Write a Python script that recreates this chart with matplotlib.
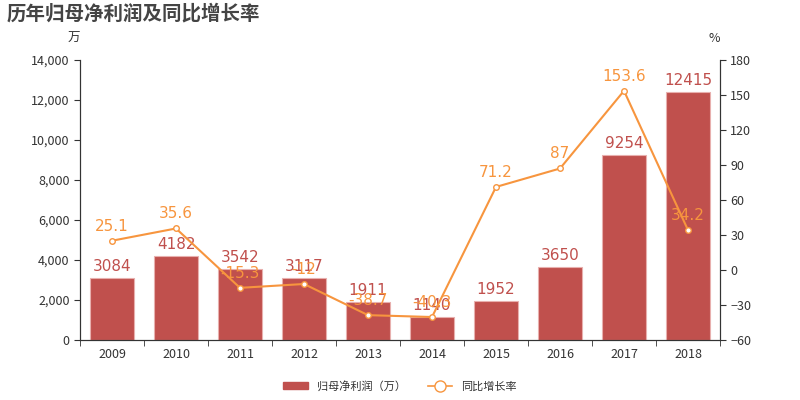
import matplotlib
matplotlib.use("Agg")
import matplotlib.pyplot as plt
from matplotlib.ticker import FuncFormatter, FixedLocator
import numpy as np

plt.rcParams['font.family'] = ['Noto Sans CJK SC', 'DejaVu Sans']

years = ['2009', '2010', '2011', '2012', '2013', '2014', '2015', '2016', '2017', '2018']
profit = [3084, 4182, 3542, 3117, 1911, 1140, 1952, 3650, 9254, 12415]
growth = [25.1, 35.6, -15.3, -12, -38.7, -40.3, 71.2, 87, 153.6, 34.2]

bar_color = '#c0504d'
line_color = '#f7953e'
text_color = '#333333'

fig = plt.figure(figsize=(8, 4), dpi=100)
ax = fig.add_axes([0.1, 0.15, 0.8, 0.70])
ax2 = ax.twinx()

x = np.arange(len(years))
ax.bar(x, profit, width=0.7, color=bar_color, edgecolor='#e8b0ae', linewidth=0.8, zorder=2)
for xi, v in zip(x, profit):
    ax.text(xi, v + 200, str(v), ha='center', va='bottom', color=bar_color, fontsize=11, family='DejaVu Sans')

ax.set_ylim(0, 14000)
ax.set_yticks(np.arange(0, 14001, 2000))
ax.yaxis.set_major_formatter(FuncFormatter(lambda v, p: f'{int(v):,}'))
ax.set_xlim(-0.5, len(years) - 0.5)
ax.set_xticks(x)
ax.set_xticklabels(years)
ax.xaxis.set_minor_locator(FixedLocator(np.arange(-0.5, len(years), 1)))
ax.tick_params(axis='x', which='major', length=0, labelsize=9, colors=text_color, pad=6)
ax.tick_params(axis='x', which='minor', length=4, color=text_color)
ax.tick_params(axis='y', labelsize=9, colors=text_color, length=4)

ax2.plot(x, growth, color=line_color, linewidth=1.5, marker='o', markersize=4,
         markerfacecolor='white', markeredgecolor=line_color, zorder=3)
for xi, g in zip(x, growth):
    lbl = f'{g:g}'
    ax2.text(xi, g + 6, lbl, ha='center', va='bottom', color=line_color, fontsize=11, family='DejaVu Sans')
ax2.set_ylim(-60, 180)
ax2.set_yticks(np.arange(-60, 181, 30))
ax2.tick_params(axis='y', labelsize=9, colors=text_color, length=4)

for a in (ax, ax2):
    a.spines['top'].set_visible(False)
    for s in ('left', 'right', 'bottom'):
        a.spines[s].set_color(text_color)
ax.set_zorder(ax2.get_zorder() - 1)
ax.patch.set_visible(False)

fig.text(0.008, 0.965, '历年归母净利润及同比增长率', fontsize=14, fontweight='bold', color='#444444', va='center')
fig.text(0.1, 0.905, '万', fontsize=9, color=text_color, ha='right', va='center')
fig.text(0.9, 0.905, '%', fontsize=9, color=text_color, ha='right', va='center')

from matplotlib.patches import Patch
from matplotlib.lines import Line2D
handles = [Patch(facecolor=bar_color, edgecolor=bar_color),
           Line2D([0], [0], color=line_color, marker='o', markersize=8, markerfacecolor='white',
                  markeredgecolor=line_color, linewidth=1.2)]
fig.legend(handles, ['归母净利润（万）', '同比增长率'], loc='center', bbox_to_anchor=(0.5, 0.035),
           ncol=2, frameon=False, fontsize=8, labelcolor=text_color, handlelength=2.2, columnspacing=2)

fig.savefig('out.png', dpi=100)
